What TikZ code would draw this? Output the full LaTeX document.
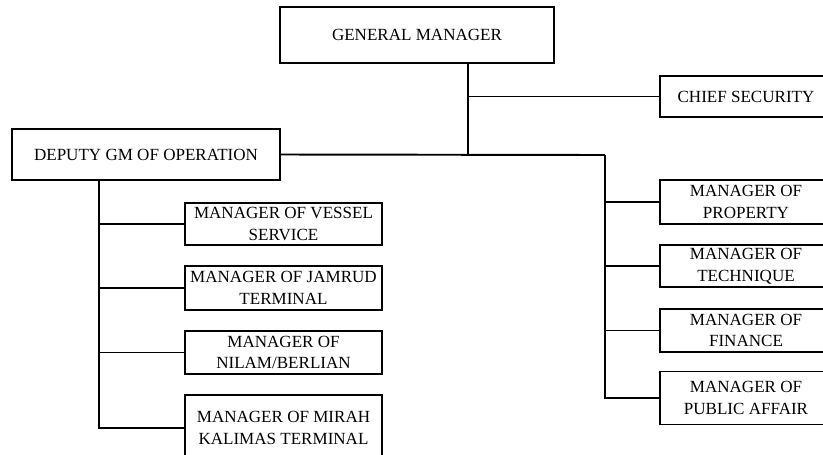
\documentclass[tikz,border=0pt]{standalone}
\usepackage{fontspec}
\setmainfont{Liberation Serif}
\usepackage{tikz}

\begin{document}
\begin{tikzpicture}[x=0.02cm, y=-0.02cm]

    \tikzstyle{unit box} = [draw, line width=1.1pt, align=center, inner sep=0pt,
                            font=\fontsize{9.7}{12.3}\selectfont];
    \tikzstyle{link} = [line width=1.1pt];

    \useasboundingbox (0,0) rectangle (823,454);

    % Top level
    \node[unit box, minimum width=5.48cm, minimum height=1.12cm] (gm) at (417,35) {GENERAL MANAGER};
    \node[unit box, minimum width=3.44cm, minimum height=0.82cm] (chief) at (746,96.5) {CHIEF SECURITY};
    \node[unit box, minimum width=5.36cm, minimum height=1.02cm] (dgm) at (146,154.5) {DEPUTY GM OF OPERATION};

    \coordinate (hub) at (468,155);
    \coordinate (rtop) at (605,155);
    \coordinate (ltop) at (99,180);

    \draw[link] (gm.south -| hub) -- (hub);
    \draw[link] (hub |- chief.west) -- (chief.west);
    \draw[link] (dgm.east) -- (rtop);

    % Operation side
    \node[unit box, minimum width=3.94cm, minimum height=0.84cm] (vessel) at (283.5,224) {MANAGER OF VESSEL\\SERVICE};
    \node[unit box, minimum width=3.94cm, minimum height=0.88cm] (jamrud) at (283.5,288) {MANAGER OF JAMRUD\\TERMINAL};
    \node[unit box, minimum width=3.94cm, minimum height=0.86cm] (nilam) at (283.5,352.5) {MANAGER OF\\NILAM/BERLIAN};
    \node[unit box, minimum width=3.94cm, minimum height=1.32cm] (mirah) at (283.5,428) {MANAGER OF MIRAH\\KALIMAS TERMINAL};

    \draw[link] (ltop) |- (mirah.west);
    \foreach \m in {vessel, jamrud, nilam}
        \draw[link] (ltop |- \m.west) -- (\m.west);

    % Support side
    \node[unit box, minimum width=3.44cm, minimum height=0.88cm] (property) at (746,202) {MANAGER OF\\PROPERTY};
    \node[unit box, minimum width=3.44cm, minimum height=0.84cm] (technique) at (746,266) {MANAGER OF\\TECHNIQUE};
    \node[unit box, minimum width=3.44cm, minimum height=0.86cm] (finance) at (746,330.5) {MANAGER OF\\FINANCE};
    \node[unit box, minimum width=3.44cm, minimum height=1.06cm] (public) at (746,398) {MANAGER OF\\PUBLIC AFFAIR};

    \draw[link] (rtop) |- (public.west);
    \foreach \m in {property, technique, finance}
        \draw[link] (rtop |- \m.west) -- (\m.west);

\end{tikzpicture}
\end{document}
